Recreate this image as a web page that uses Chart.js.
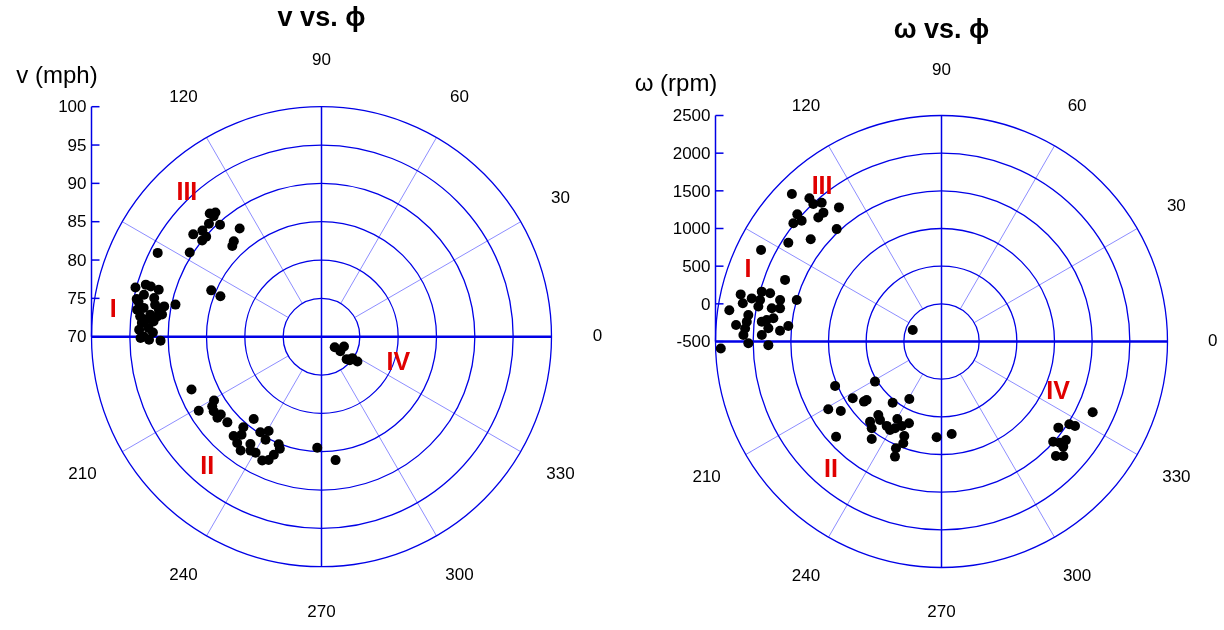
<!DOCTYPE html>
<html>
<head>
<meta charset="utf-8">
<script src="https://cdn.jsdelivr.net/npm/chart.js@4.4.0/dist/chart.umd.min.js"></script>
<style>
  body { margin: 0; background: #fff; }
  #wrap { position: relative; width: 1224px; height: 630px; }
  canvas { position: absolute; top: 0; }
  #leftChart { left: 0; }
  #rightChart { left: 612px; }
</style>
</head>
<body>
<div id="wrap">
  <canvas id="leftChart" width="612" height="630"></canvas>
  <canvas id="rightChart" width="612" height="630"></canvas>
</div>
<script>
// angle ticks (degrees) that get a label, and radial ticks
const angleTicks = [0, 30, 60, 90, 120, 150, 180, 210, 240, 270, 300, 330];
const angleLabels = [0, 30, 60, 90, 120, 210, 240, 270, 300, 330];
const vTicks = [70, 75, 80, 85, 90, 95, 100];
const wTicks = [-500, 0, 500, 1000, 1500, 2000, 2500];

// v (mph) vs phi (deg) -- clusters I, III, II, IV
const vPhi = [
  165.2, 163.5, 163.6, 163.9, 168.5, 166.7, 167.0, 169.1, 167.6, 170.8, 170.6, 173.6, 172.7, 172.1,
  175.6, 174.8, 177.8, 177.1, 179.9, 181.0, 181.4, 180.4, 173.0, 169.2, 169.1, 174.5, 171.7, 178.6,
  132.2, 130.5, 131.8, 132.2, 134.9, 138.3, 141.4, 139.1, 141.1, 127.1, 132.6, 134.5, 147.4, 157.2, 158.2, 152.9,
  202.1, 211.1, 210.7, 212.5, 214.7, 217.7, 217.9, 222.3, 230.5, 229.2, 228.5, 230.8, 231.6, 234.6,
  236.5, 238.1, 240.4, 237.4, 240.7, 241.5, 248.3, 249.6, 248.0, 246.8, 244.4, 267.8, 276.5,
  321.6, 336.5, 322.3, 318.3, 325.2, 325.3, 320.1
];
const vSpeed = [
  95.1, 93.9, 93.2, 92.1, 94.6, 93.8, 92.4, 90.9, 89.5, 93.5, 91.5, 93.8, 92.5, 91.0,
  93.5, 92.0, 93.8, 92.6, 93.2, 92.5, 91.0, 93.6, 91.6, 94.3, 92.1, 93.1, 94.3, 92.0,
  91.7, 91.3, 91.1, 89.7, 90.8, 90.8, 91.4, 89.9, 90.0, 87.7, 86.9, 86.6, 90.4, 85.6, 84.2, 94.0,
  88.3, 88.7, 86.3, 86.9, 87.1, 86.6, 87.2, 86.6, 83.9, 85.6, 87.3, 86.5, 87.7, 88.2,
  86.8, 87.5, 87.4, 84.8, 84.1, 85.3, 85.1, 85.6, 86.6, 87.5, 87.9, 84.5, 86.2,
  72.2, 73.2, 73.1, 74.4, 74.9, 75.7, 74.8
];

// omega (rpm) vs phi (deg) -- clusters I, III, II, IV
const wPhi = [
  153.1, 158.5, 166.8, 169.1, 167.2, 164.5, 164.3, 167.1, 169.2, 168.9, 165.6, 168.4, 164.0, 171.6, 172.2,
  175.4, 174.2, 173.7, 173.0, 172.1, 175.6, 176.2, 178.1, 177.9, 180.5, 181.2, 176.2, 174.2, 181.8,
  135.4, 132.7, 133.0, 130.8, 127.4, 138.6, 139.2, 141.4, 134.8, 132.5, 133.0, 142.0, 147.2,
  158.2, 202.7, 211.1, 212.6, 217.8, 218.0, 231.4, 240.8, 210.9, 214.6, 229.3, 228.3, 231.2, 231.9,
  237.0, 239.8, 241.8, 240.3, 244.8, 248.3, 222.1, 234.4, 248.5, 249.4, 246.9, 248.0, 267.1, 276.3,
  334.9, 323.6, 327.1, 327.7, 318.1, 319.5, 321.6, 319.2, 315.0, 316.8
];
const wSpin = [
  2186, 1732, 2238, 2186, 2083, 1976, 1863, 1971, 1975, 1796, 1712, 1688, 1499, 2347, 2088,
  2236, 2098, 1900, 1837, 1753, 1805, 2113, 2131, 1887, 2064, 1799, 1648, 1544, 2431,
  2289, 2086, 1995, 1934, 1741, 2052, 1952, 2016, 1821, 1820, 1540, 1703, 1919,
  -89, 1031, 531, 899, 802, 761, 539, 375, 1252, 1124, 786, 925, 978, 823,
  836, 859, 807, 684, 739, 668, 1386, 1091, 848, 942, 1041, 1148, 773, 735,
  1716, 1427, 1521, 1597, 1492, 1567, 1607, 1635, 1648, 1719
];

// cluster labels
const romanText = ["I", "II", "III", "IV"];
const vRomanPhi = [172.7, 228.7, 133.1, 341.0];
const vRomanVal = [97.4, 92.6, 95.7, 80.6];
const wRomanPhi = [159.7, 229.3, 127.7, 336.6];
const wRomanVal = [2238, 1749, 2092, 1185];

const FONT = '"Liberation Sans", Arial, sans-serif';

function toXY(phi, r, r0) {
  const pts = [];
  for (let i = 0; i < phi.length; i++) {
    const t = phi[i] * Math.PI / 180;
    pts.push({ x: (r[i] - r0) * Math.cos(t), y: (r[i] - r0) * Math.sin(t) });
  }
  return pts;
}

const polarGrid = {
  id: 'polarGrid',
  beforeDatasetsDraw(chart, args, o) {
    const ctx = chart.ctx, xs = chart.scales.x, ys = chart.scales.y;
    const cx = xs.getPixelForValue(0), cy = ys.getPixelForValue(0);
    const r0 = o.ticks[0];
    const rpx = v => xs.getPixelForValue(v - r0) - cx;
    const R = rpx(o.ticks[o.ticks.length - 1]);
    const rIn = rpx(o.ticks[1]);
    ctx.save();

    // spokes
    ctx.strokeStyle = '#7070ff';
    ctx.lineWidth = 0.8;
    angleTicks.forEach(a => {
      if (a % 90 === 0) return;
      const t = a * Math.PI / 180;
      ctx.beginPath();
      ctx.moveTo(cx + rIn * Math.cos(t), cy - rIn * Math.sin(t));
      ctx.lineTo(cx + R * Math.cos(t), cy - R * Math.sin(t));
      ctx.stroke();
    });

    // rings
    ctx.strokeStyle = '#0000e6';
    ctx.lineWidth = 1.3;
    o.ticks.slice(1).forEach(v => {
      ctx.beginPath();
      ctx.arc(cx, cy, rpx(v), 0, 2 * Math.PI);
      ctx.stroke();
    });

    // main axes
    ctx.lineWidth = 1.5;
    ctx.beginPath();
    ctx.moveTo(cx, cy - R); ctx.lineTo(cx, cy + R);
    ctx.stroke();
    ctx.lineWidth = 2.5;
    ctx.beginPath();
    ctx.moveTo(cx - R, cy); ctx.lineTo(cx + R, cy);
    ctx.stroke();

    // radial axis on the left
    const ax = cx - R;
    ctx.lineWidth = 1.5;
    ctx.beginPath();
    ctx.moveTo(ax, cy); ctx.lineTo(ax, cy - R);
    ctx.stroke();
    ctx.fillStyle = '#000';
    ctx.font = '17px ' + FONT;
    ctx.textAlign = 'right';
    ctx.textBaseline = 'middle';
    o.ticks.forEach(v => {
      const y = cy - rpx(v);
      ctx.beginPath();
      ctx.moveTo(ax, y); ctx.lineTo(ax + 8, y);
      ctx.stroke();
      ctx.fillText(String(v), ax - 5, y + 1);
    });

    // angle labels
    ctx.textAlign = 'center';
    angleLabels.forEach(a => {
      const t = a * Math.PI / 180;
      ctx.fillText(String(a), cx + 1.2 * R * Math.cos(t), cy - 1.2 * R * Math.sin(t));
    });

    // titles
    ctx.font = 'bold 27px ' + FONT;
    ctx.fillText(o.title, cx, o.titleY);
    ctx.font = '24px ' + FONT;
    ctx.fillText(o.axisTitle, o.axisTitleX, o.axisTitleY);
    ctx.restore();
  },
  afterDatasetsDraw(chart, args, o) {
    const ctx = chart.ctx, xs = chart.scales.x, ys = chart.scales.y;
    ctx.save();
    ctx.fillStyle = '#e00000';
    ctx.font = 'bold 25px ' + FONT;
    ctx.textAlign = 'center';
    ctx.textBaseline = 'middle';
    const pos = toXY(o.romanPhi, o.romanVal, o.ticks[0]);
    pos.forEach((p, i) => {
      ctx.fillText(romanText[i], xs.getPixelForValue(p.x), ys.getPixelForValue(p.y));
    });
    ctx.restore();
  }
};

function makePolar(id, phi, vals, ticks, pad, extra) {
  const span = ticks[ticks.length - 1] - ticks[0];
  return new Chart(document.getElementById(id), {
    type: 'scatter',
    data: {
      datasets: [{
        data: toXY(phi, vals, ticks[0]),
        backgroundColor: '#000',
        borderWidth: 0,
        pointRadius: 5,
        pointHoverRadius: 5
      }]
    },
    options: {
      responsive: false,
      animation: false,
      devicePixelRatio: 1,
      layout: { padding: pad },
      scales: {
        x: { type: 'linear', min: -span, max: span, display: false },
        y: { type: 'linear', min: -span, max: span, display: false }
      },
      plugins: {
        legend: { display: false },
        tooltip: { enabled: false },
        polarGrid: Object.assign({ ticks: ticks }, extra)
      }
    },
    plugins: [polarGrid]
  });
}

makePolar('leftChart', vPhi, vSpeed, vTicks,
  { left: 91.5, right: 60.5, top: 106.7, bottom: 63.3 },
  { title: 'v vs. \u03D5', titleY: 19, axisTitle: 'v (mph)', axisTitleX: 57, axisTitleY: 76,
    romanPhi: vRomanPhi, romanVal: vRomanVal });

makePolar('rightChart', wPhi, wSpin, wTicks,
  { left: 103.5, right: 56.5, top: 115.5, bottom: 62.5 },
  { title: '\u03C9 vs. \u03D5', titleY: 31, axisTitle: '\u03C9 (rpm)', axisTitleX: 64, axisTitleY: 84,
    romanPhi: wRomanPhi, romanVal: wRomanVal });
</script>
</body>
</html>
